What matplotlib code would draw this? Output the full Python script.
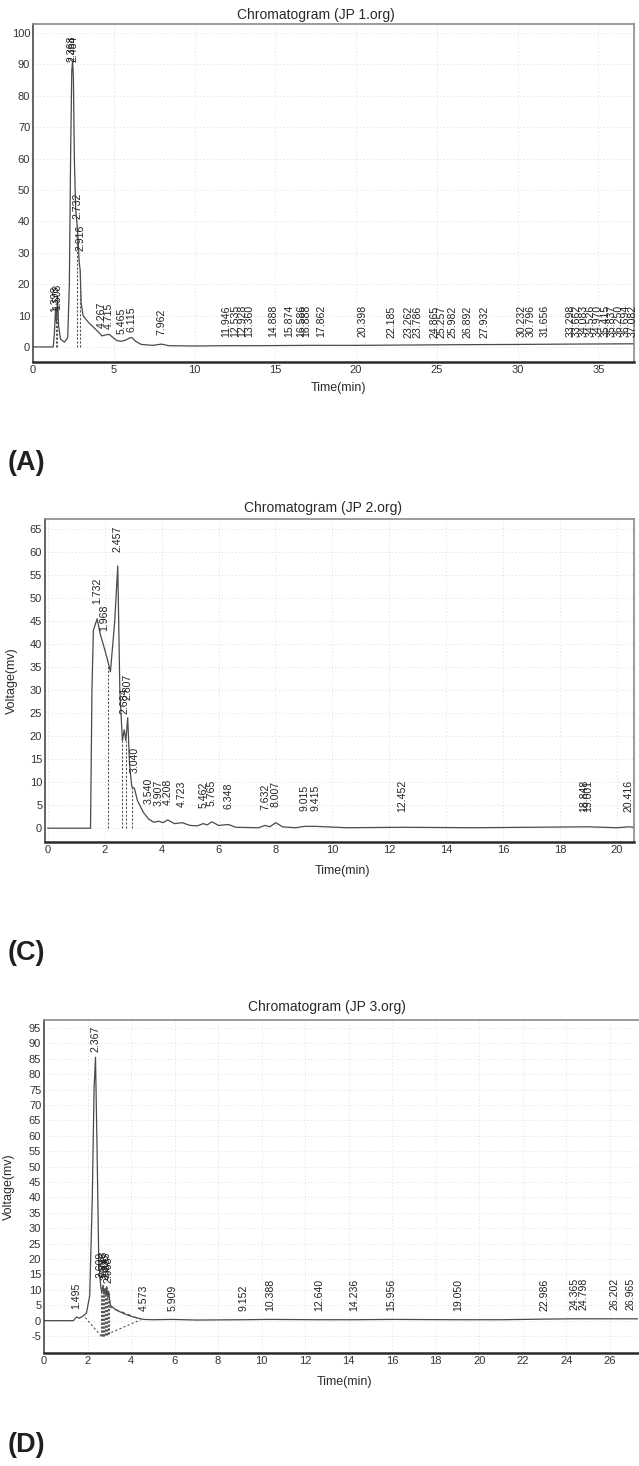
import matplotlib
matplotlib.use('Agg')
import matplotlib.pyplot as plt

plt.rcParams['font.family'] = ['Liberation Sans', 'DejaVu Sans']
plt.rcParams['axes.unicode_minus'] = False

# ---- panel A : Chromatogram (JP 1.org) ----
a_time = [0.0, 1.25, 1.32, 1.40, 1.45, 1.52, 1.58, 1.70, 1.95, 2.15, 2.25, 2.33, 2.40, 2.45,
          2.50, 2.56, 2.64, 2.73, 2.80, 2.86, 2.92, 2.98, 3.10, 3.40, 3.80, 4.10, 4.27, 4.45,
          4.72, 4.95, 5.20, 5.47, 5.75, 5.95, 6.12, 6.35, 6.70, 7.40, 7.96, 8.40, 10.0, 12.0,
          14.0, 17.0, 20.0, 23.0, 26.0, 30.0, 33.0, 37.2]
a_signal = [0.0, 0.0, 4.0, 12.5, 8.0, 16.0, 7.0, 2.5, 1.5, 3.0, 20.0, 62.0, 88.0, 91.0,
            86.0, 60.0, 44.0, 39.0, 33.0, 27.0, 24.5, 14.0, 10.0, 8.0, 6.0, 4.5, 3.5, 3.8,
            4.0, 3.0, 2.0, 1.8, 2.2, 2.8, 3.0, 1.8, 0.8, 0.5, 0.9, 0.4, 0.3, 0.4,
            0.4, 0.5, 0.5, 0.6, 0.7, 0.8, 0.9, 1.0]
a_peak_rt = [1.398, 1.508, 2.368, 2.484, 2.732, 2.916, 4.267, 4.715, 5.465, 6.115, 7.962,
             11.946, 12.535, 12.928, 13.360, 14.888, 15.874, 16.586, 16.888, 17.862, 20.398,
             22.185, 23.262, 23.786, 24.865, 25.257, 25.982, 26.892, 27.932, 30.232, 30.796,
             31.656, 33.298, 33.662, 34.083, 34.526, 34.970, 35.415, 35.837, 36.250, 36.694,
             37.082]
a_peak_height = [8.5, 9.0, 88.0, 88.0, 38.0, 28.0, 3.5, 3.0, 1.5, 2.0, 1.0,
                 0.5, 0.5, 0.5, 0.5, 0.5, 0.5, 0.5, 0.5, 0.5, 0.5,
                 0.3, 0.3, 0.3, 0.3, 0.3, 0.3, 0.3, 0.3, 0.6, 0.6,
                 0.6, 0.4, 0.4, 0.4, 0.4, 0.4, 0.4, 0.4, 0.4, 0.4, 0.4]
a_drop_rt = [1.398, 1.508, 2.732, 2.916]
a_drop_top = [12.5, 16.0, 39.0, 24.5]

# ---- panel C : Chromatogram (JP 2.org) ----
c_time = [0.0, 1.50, 1.55, 1.60, 1.732, 1.85, 1.968, 2.08, 2.20, 2.35, 2.457, 2.53, 2.62,
          2.684, 2.74, 2.807, 2.87, 2.95, 3.04, 3.15, 3.35, 3.54, 3.72, 3.907, 4.05, 4.208,
          4.45, 4.723, 5.00, 5.25, 5.462, 5.60, 5.765, 6.00, 6.348, 6.60, 7.40, 7.632, 7.80,
          8.007, 8.25, 8.70, 9.015, 9.415, 10.5, 12.452, 15.0, 18.848, 19.001, 20.0, 20.416, 20.6]
c_signal = [0.0, 0.0, 30.0, 43.0, 45.5, 42.0, 39.5, 37.0, 34.0, 45.0, 57.0, 30.0, 19.0,
            21.4, 19.0, 24.0, 14.0, 9.0, 8.7, 6.0, 3.5, 2.0, 1.3, 1.5, 1.2, 1.8,
            1.0, 1.2, 0.6, 0.5, 1.0, 0.7, 1.4, 0.6, 0.8, 0.2, 0.1, 0.6, 0.3,
            1.2, 0.3, 0.1, 0.4, 0.4, 0.1, 0.2, 0.1, 0.3, 0.3, 0.1, 0.3, 0.2]
c_peak_rt = [1.732, 1.968, 2.457, 2.684, 2.807, 3.040, 3.540, 3.907, 4.208, 4.723, 5.462,
             5.765, 6.348, 7.632, 8.007, 9.015, 9.415, 12.452, 18.848, 19.001, 20.416]
c_peak_height = [45.4, 39.5, 56.8, 21.4, 24.5, 8.7, 2.0, 1.5, 1.8, 1.2, 1.0,
                 1.4, 0.8, 0.6, 1.2, 0.4, 0.4, 0.2, 0.3, 0.3, 0.3]
c_drop_rt = [2.10, 2.62, 2.74, 2.95]
c_drop_top = [36.0, 19.0, 19.0, 9.0]

# ---- panel D : Chromatogram (JP 3.org) ----
d_time = [0.0, 1.35, 1.495, 1.62, 1.80, 1.95, 2.10, 2.22, 2.30, 2.367, 2.44, 2.52, 2.609,
          2.66, 2.713, 2.76, 2.808, 2.85, 2.883, 2.93, 2.968, 3.05, 3.30, 3.70, 4.10, 4.573,
          5.0, 5.909, 7.0, 9.152, 10.388, 12.640, 14.236, 15.956, 19.050, 21.0, 22.986,
          24.365, 24.798, 26.202, 26.965, 27.3]
d_signal = [0.0, 0.0, 1.2, 0.8, 1.5, 2.5, 8.0, 40.0, 75.0, 85.5, 55.0, 18.0, 11.0,
            9.0, 11.5, 8.5, 10.5, 8.0, 11.0, 7.5, 9.5, 5.0, 3.5, 2.2, 1.2, 0.4,
            0.3, 0.4, 0.2, 0.3, 0.4, 0.3, 0.3, 0.4, 0.3, 0.3, 0.5,
            0.6, 0.6, 0.6, 0.6, 0.6]
d_peak_rt = [1.495, 2.367, 2.609, 2.713, 2.808, 2.883, 2.968, 4.573, 5.909, 9.152, 10.388,
             12.640, 14.236, 15.956, 19.050, 22.986, 24.365, 24.798, 26.202, 26.965]
d_peak_height = [1.2, 84.5, 11.0, 11.5, 10.5, 11.0, 9.5, 0.4, 0.4, 0.3, 0.4,
                 0.3, 0.3, 0.4, 0.3, 0.3, 0.6, 0.6, 0.6, 0.6]
d_drop_rt = [2.609, 2.66, 2.713, 2.76, 2.808, 2.85, 2.883, 2.93, 2.968]
d_drop_low = [-4.9, -5.1, -5.0, -4.9, -4.7, -4.6, -4.5, -4.3, -4.2]
d_drop_top = [11.0, 9.0, 11.5, 8.5, 10.5, 8.0, 11.0, 7.5, 9.5]
d_base_t = [1.90, 2.65, 4.45]
d_base_v = [1.0, -5.2, 0.3]
d_tail_t = [3.00, 4.40]
d_tail_v = [4.5, 0.5]

W, H = 639, 1466
fig = plt.figure(figsize=(W / 100, H / 100), dpi=100)
ink = '#2a2a2a'


def px_axes(left, top, right, bottom):
    return fig.add_axes([left / W, 1 - bottom / H, (right - left) / W, (bottom - top) / H])


def draw_panel(ax, t, v, rts, hts, drop_rt, drop_lo, drop_top, xlim, ylim, xticks, yticks,
               offset):
    ax.set_xlim(*xlim)
    ax.set_ylim(*ylim)
    ax.set_xticks(xticks)
    ax.set_yticks(yticks)
    ax.grid(True, color='#d4d4d4', lw=0.6, ls=(0, (1, 3)))
    ax.set_axisbelow(True)
    ax.plot(t, v, color='#4a4a4a', lw=0.9)
    ax.vlines(drop_rt, drop_lo, drop_top, colors='#555555', lw=0.8, linestyles=(0, (2, 1.5)))
    for rt, h in zip(rts, hts):
        ax.annotate('%.3f' % rt, (rt, h), xytext=(0, offset), textcoords='offset points',
                    rotation=90, ha='center', va='bottom', fontsize=7.6, color='#222222')
    ax.tick_params(length=0, pad=2, labelsize=8, colors='#333333')
    for s in ['top', 'right']:
        ax.spines[s].set_color('#8a8a8a')
        ax.spines[s].set_linewidth(1.2)
    ax.spines['left'].set_color('#3a3a3a')
    ax.spines['left'].set_linewidth(1.1)
    ax.spines['bottom'].set_color('#2a2a2a')
    ax.spines['bottom'].set_linewidth(1.8)


# panel A
axA = px_axes(33, 24, 634, 362)
draw_panel(axA, a_time, a_signal, a_peak_rt, a_peak_height, a_drop_rt, 0, a_drop_top,
           (0, 37.2), (-4.8, 102.9), range(0, 36, 5), range(0, 101, 10), 6)
fig.text(316 / W, 1 - 15 / H, 'Chromatogram (JP 1.org)', ha='center', va='center',
         fontsize=10, color=ink)
fig.text(338 / W, 1 - 388 / H, 'Time(min)', ha='center', va='center', fontsize=9, color=ink)
fig.text(8 / W, 1 - 463 / H, '(A)', ha='left', va='center', fontsize=19.5,
         fontweight='bold', color='#231f20')

# panel C
axC = px_axes(45, 519, 634, 842)
draw_panel(axC, c_time, c_signal, c_peak_rt, c_peak_height, c_drop_rt, 0, c_drop_top,
           (-0.1, 20.6), (-3.0, 67.2), range(0, 21, 2), range(0, 66, 5), 11)
axC.set_ylabel('Voltage(mv)', fontsize=9, color=ink)
axC.yaxis.set_label_coords(-27 / 589, 0.5)
fig.text(323 / W, 1 - 508 / H, 'Chromatogram (JP 2.org)', ha='center', va='center',
         fontsize=10, color=ink)
fig.text(342 / W, 1 - 871 / H, 'Time(min)', ha='center', va='center', fontsize=9, color=ink)
fig.text(8 / W, 1 - 953 / H, '(C)', ha='left', va='center', fontsize=19.5,
         fontweight='bold', color='#231f20')

# panel D
axD = px_axes(44, 1020, 638, 1353)
draw_panel(axD, d_time, d_signal, d_peak_rt, d_peak_height, d_drop_rt, d_drop_low,
           d_drop_top, (0, 27.3), (-10.5, 97.6), range(0, 27, 2), range(-5, 96, 5), 6)
axD.plot(d_base_t, d_base_v, color='#555555', lw=0.8, ls=(0, (2, 2)))
axD.plot(d_tail_t, d_tail_v, color='#555555', lw=0.8, ls=(0, (3, 3)))
axD.set_ylabel('Voltage(mv)', fontsize=9, color=ink)
axD.yaxis.set_label_coords(-29 / 594, 0.5)
axD.spines['right'].set_visible(False)
fig.text(327 / W, 1 - 1007 / H, 'Chromatogram (JP 3.org)', ha='center', va='center',
         fontsize=10, color=ink)
fig.text(344 / W, 1 - 1382 / H, 'Time(min)', ha='center', va='center', fontsize=9, color=ink)
fig.text(8 / W, 1 - 1445 / H, '(D)', ha='left', va='center', fontsize=19.5,
         fontweight='bold', color='#231f20')

fig.savefig('out.png', dpi=100)
